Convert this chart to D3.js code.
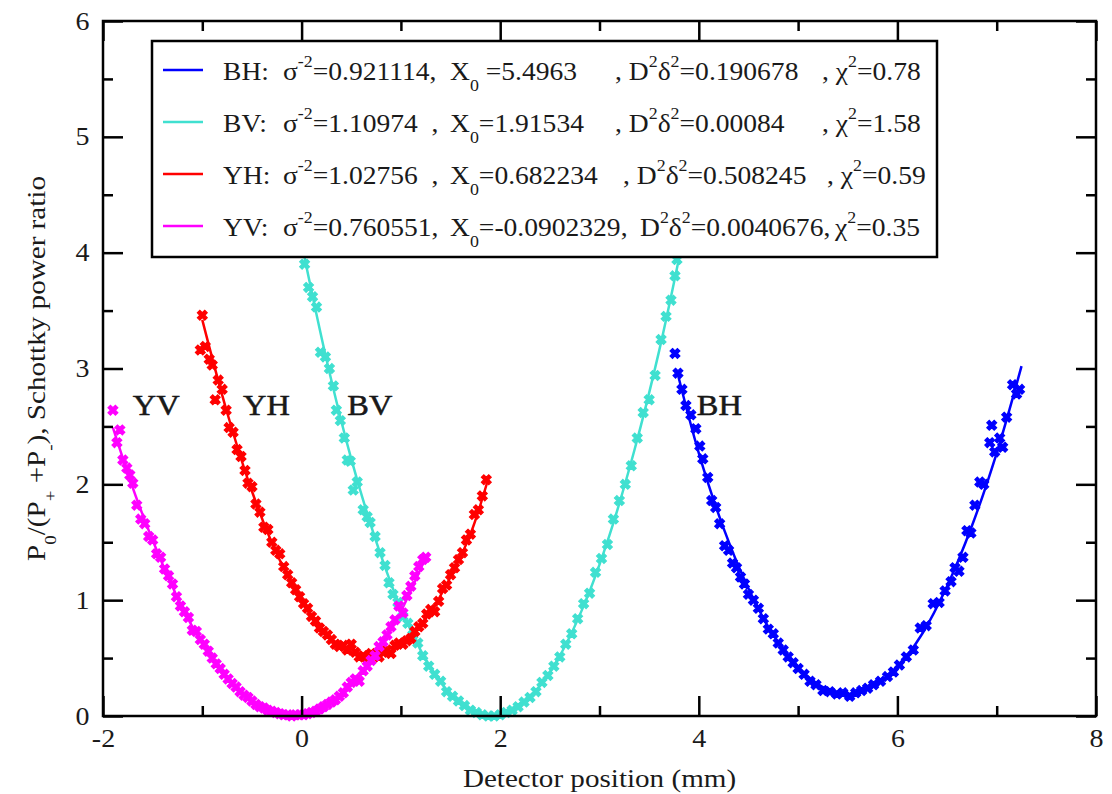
<!DOCTYPE html>
<html>
<head>
<meta charset="utf-8">
<script src="https://cdn.jsdelivr.net/npm/d3@7"></script>
<style>
  body { margin: 0; background: #fff; }
  svg text { font-family: "Liberation Serif", "Times New Roman", serif; fill: #1a1a1a; }
</style>
</head>
<body>
<div id="chart"></div>
<script>
// ---- data ----
var seriesNames = ["BH", "BV", "YH", "YV"];
var seriesColors = ["#0000ff", "#40e0d0", "#ff0000", "#ff00ff"];

// legend fit results, one string per series
var sigmaTxt = ["0.921114,", "1.10974  ,", "1.02756  ,", "0.760551,"];
var x0Txt    = ["5.4963", "1.91534", "0.682234", "-0.0902329,"];
var ddTxt    = ["0.190678", "0.00084", "0.508245", "0.0040676,"];
var chiTxt   = ["0.78", "1.58", "0.59", "0.35"];

var xTicks = [-2, 0, 2, 4, 6, 8];
var xMinor = [-1, 1, 3, 5, 7];
var yTicks = [0, 1, 2, 3, 4, 5, 6];
var yMinor = [0.5, 1.5, 2.5, 3.5, 4.5, 5.5];

// measured points [position mm, power ratio]
var bhPoints = [[3.76,3.13],[3.79,2.96],[3.83,2.82],[3.87,2.68],[3.92,2.60],[3.97,2.48],[4.01,2.33],[4.04,2.22],
  [4.09,2.06],[4.13,1.86],[4.17,1.80],[4.21,1.66],[4.26,1.47],[4.30,1.43],[4.34,1.32],[4.38,1.28],[4.42,1.20],
  [4.46,1.14],[4.50,1.05],[4.55,1.00],[4.60,0.93],[4.65,0.84],[4.70,0.75],[4.75,0.71],[4.80,0.63],[4.85,0.57],
  [4.90,0.51],[4.95,0.46],[5.00,0.41],[5.06,0.36],[5.12,0.30],[5.18,0.27],[5.25,0.22],[5.32,0.21],[5.39,0.19],
  [5.45,0.20],[5.52,0.17],[5.58,0.20],[5.64,0.22],[5.70,0.24],[5.76,0.27],[5.83,0.30],[5.90,0.34],[5.96,0.38],
  [6.02,0.44],[6.09,0.51],[6.16,0.57],[6.23,0.76],[6.29,0.78],[6.36,0.97],[6.42,0.98],[6.48,1.08],[6.54,1.16],
  [6.58,1.28],[6.62,1.25],[6.66,1.37],[6.70,1.60],[6.74,1.58],[6.78,1.82],[6.83,2.02],[6.87,2.00],[6.93,2.36],
  [6.95,2.51],[6.98,2.28],[7.03,2.40],[7.06,2.32],[7.10,2.58],[7.16,2.86],[7.20,2.78],[7.23,2.82]];

var bvPoints = [[0.03,3.90],[0.07,3.70],[0.11,3.62],[0.15,3.53],[0.19,3.14],[0.24,3.10],[0.28,3.00],[0.32,2.85],
  [0.35,2.64],[0.39,2.55],[0.43,2.40],[0.46,2.21],[0.49,2.20],[0.52,1.95],[0.56,2.02],[0.62,1.78],[0.66,1.72],
  [0.69,1.67],[0.74,1.55],[0.79,1.41],[0.84,1.30],[0.88,1.15],[0.92,1.05],[0.97,0.98],[1.02,0.86],[1.07,0.80],
  [1.12,0.70],[1.17,0.63],[1.22,0.52],[1.28,0.43],[1.34,0.36],[1.40,0.30],[1.46,0.21],[1.52,0.17],[1.58,0.13],
  [1.64,0.09],[1.70,0.05],[1.76,0.03],[1.82,0.01],[1.88,0.00],[1.94,0.00],[2.00,0.01],[2.06,0.03],[2.12,0.05],
  [2.18,0.08],[2.24,0.12],[2.30,0.16],[2.36,0.21],[2.42,0.29],[2.48,0.35],[2.54,0.43],[2.60,0.51],[2.66,0.62],
  [2.72,0.71],[2.78,0.84],[2.84,0.97],[2.90,1.06],[2.96,1.24],[3.02,1.36],[3.08,1.48],[3.14,1.70],[3.20,1.86],
  [3.26,2.00],[3.32,2.16],[3.38,2.40],[3.44,2.62],[3.50,2.73],[3.56,2.94],[3.62,3.25],[3.67,3.45],[3.72,3.59],
  [3.76,3.80],[3.78,3.94]];

var yhPoints = [[-1.00,3.46],[-1.02,3.16],[-0.97,3.19],[-0.93,3.08],[-0.90,3.03],[-0.87,2.73],[-0.84,2.90],
  [-0.80,2.82],[-0.76,2.64],[-0.73,2.49],[-0.69,2.45],[-0.65,2.30],[-0.61,2.24],[-0.57,2.12],[-0.54,2.01],
  [-0.50,1.98],[-0.46,1.83],[-0.42,1.76],[-0.38,1.63],[-0.34,1.61],[-0.30,1.50],[-0.26,1.43],[-0.22,1.40],
  [-0.18,1.29],[-0.14,1.22],[-0.10,1.15],[-0.06,1.09],[-0.02,1.03],[0.02,0.97],[0.06,0.93],[0.10,0.86],
  [0.14,0.82],[0.18,0.76],[0.22,0.73],[0.26,0.70],[0.30,0.66],[0.34,0.62],[0.38,0.60],[0.42,0.61],[0.46,0.57],
  [0.50,0.62],[0.54,0.55],[0.58,0.51],[0.62,0.52],[0.66,0.50],[0.70,0.54],[0.74,0.52],[0.78,0.51],[0.82,0.55],
  [0.86,0.57],[0.90,0.54],[0.94,0.61],[0.98,0.63],[1.02,0.62],[1.06,0.65],[1.10,0.67],[1.14,0.73],[1.18,0.77],
  [1.22,0.80],[1.26,0.88],[1.30,0.92],[1.34,0.90],[1.38,0.99],[1.42,1.10],[1.46,1.13],[1.50,1.22],[1.54,1.28],
  [1.58,1.35],[1.62,1.41],[1.66,1.52],[1.70,1.57],[1.74,1.74],[1.78,1.78],[1.82,1.90],[1.86,2.04]];

var yvPoints = [[-1.90,2.64],[-1.86,2.36],[-1.83,2.47],[-1.80,2.21],[-1.76,2.14],[-1.73,2.08],[-1.70,2.01],
  [-1.66,1.82],[-1.62,1.70],[-1.58,1.66],[-1.54,1.55],[-1.50,1.52],[-1.46,1.40],[-1.42,1.37],[-1.38,1.27],
  [-1.34,1.21],[-1.30,1.14],[-1.26,1.03],[-1.22,0.95],[-1.18,0.90],[-1.14,0.85],[-1.10,0.74],[-1.06,0.73],
  [-1.02,0.66],[-0.98,0.62],[-0.94,0.56],[-0.90,0.50],[-0.86,0.45],[-0.82,0.41],[-0.78,0.36],[-0.74,0.32],
  [-0.70,0.28],[-0.66,0.25],[-0.62,0.21],[-0.58,0.18],[-0.54,0.16],[-0.50,0.13],[-0.46,0.10],[-0.42,0.08],
  [-0.38,0.07],[-0.34,0.05],[-0.30,0.04],[-0.26,0.03],[-0.22,0.02],[-0.18,0.01],[-0.14,0.01],[-0.10,0.00],
  [-0.06,0.01],[-0.02,0.01],[0.02,0.01],[0.06,0.02],[0.10,0.03],[0.14,0.04],[0.18,0.06],[0.22,0.08],[0.26,0.10],
  [0.30,0.12],[0.34,0.14],[0.38,0.17],[0.42,0.20],[0.46,0.25],[0.50,0.29],[0.54,0.32],[0.58,0.30],[0.62,0.39],
  [0.66,0.43],[0.70,0.48],[0.74,0.52],[0.78,0.60],[0.82,0.64],[0.86,0.70],[0.90,0.77],[0.94,0.83],[0.98,0.95],
  [1.02,0.89],[1.06,1.04],[1.10,1.12],[1.14,1.21],[1.18,1.29],[1.22,1.35],[1.25,1.37]];

// fit curves
var bhFit = [[3.78,2.98],[4.0,2.27],[4.25,1.62],[4.5,1.10],[4.75,0.70],[5.0,0.42],[5.25,0.25],[5.5,0.19],
  [5.75,0.25],[6.0,0.42],[6.25,0.71],[6.5,1.12],[6.75,1.64],[7.0,2.27],[7.25,3.02]];
var bvFit = [[-0.05,4.29],[0.25,3.08],[0.5,2.22],[0.75,1.51],[1.0,0.93],[1.25,0.49],[1.5,0.19],[1.75,0.03],
  [1.92,0.0],[2.1,0.04],[2.35,0.21],[2.6,0.52],[2.85,0.97],[3.1,1.56],[3.35,2.29],[3.6,3.15],[3.87,4.24]];
var yhFit = [[-1.0,3.42],[-0.75,2.62],[-0.5,1.94],[-0.25,1.40],[0.0,0.99],[0.25,0.70],[0.5,0.54],[0.68,0.51],
  [0.9,0.56],[1.1,0.69],[1.3,0.90],[1.5,1.20],[1.7,1.57],[1.87,2.02]];
var yvFit = [[-1.9,2.49],[-1.65,1.85],[-1.4,1.31],[-1.15,0.85],[-0.9,0.50],[-0.65,0.24],[-0.4,0.08],
  [-0.09,0.0],[0.2,0.07],[0.45,0.22],[0.7,0.48],[0.95,0.82],[1.25,1.37]];

var allPoints = [bhPoints, bvPoints, yhPoints, yvPoints];
var allFits = [bhFit, bvFit, yhFit, yvFit];

// curve name labels, anchored in data units
var labelAt = [[3.98, 2.6], [0.46, 2.6], [-0.59, 2.6], [-1.70, 2.6]];

// ---- chart ----
var margin = {top: 21, right: 16, bottom: 78, left: 103},
    width = 1112 - margin.left - margin.right,
    height = 794 - margin.top - margin.bottom;

var sx = 1.12;   // the original type is a little wider than Liberation Serif
var sxLeg = 1.06; // legend rows are a touch narrower

var svg = d3.select("#chart")
  .append("svg")
    .attr("width", width + margin.left + margin.right)
    .attr("height", height + margin.top + margin.bottom)
  .append("g")
    .attr("transform", "translate(" + margin.left + "," + margin.top + ")");

var x = d3.scaleLinear().domain([-2, 8]).range([0, width]);
var y = d3.scaleLinear().domain([0, 6]).range([height, 0]);

// fit lines
var line = d3.line()
  .x(function(d) { return x(d[0]); })
  .y(function(d) { return y(d[1]); })
  .curve(d3.curveCatmullRom);

svg.selectAll(".fit")
  .data(allFits)
  .enter()
  .append("path")
    .attr("class", "fit")
    .attr("d", line)
    .attr("fill", "none")
    .attr("stroke", function(d, i) { return seriesColors[i]; })
    .attr("stroke-width", 2.5);

// measured points
var sym = d3.symbol().type(d3.symbolCross).size(60);
allPoints.forEach(function(pts, i) {
  svg.append("g")
    .selectAll("path")
    .data(pts)
    .enter()
    .append("path")
      .attr("d", sym)
      .attr("transform", function(d) { return "translate(" + x(d[0]) + "," + y(d[1]) + ") rotate(45)"; })
      .attr("fill", seriesColors[i])
      .attr("stroke", seriesColors[i])
      .attr("stroke-width", 1.2);
});

// axes: ticks point inward on all four sides
function styleAxis(g, fontSize) {
  g.select(".domain").remove();
  g.selectAll("line").attr("stroke", "#000").attr("stroke-width", 2.5);
  g.selectAll("text")
    .style("font-size", fontSize + "px")
    .style("font-family", "'Liberation Serif', 'Times New Roman', serif")
    .attr("fill", "#1a1a1a")
    .attr("transform", "scale(" + sx + ",1)");
}
var fmt = function(d) { return String(d); };

svg.append("g")
  .attr("transform", "translate(0," + height + ")")
  .call(d3.axisBottom(x).tickValues(xTicks).tickSize(-20).tickSizeOuter(0).tickPadding(13).tickFormat(fmt))
  .call(styleAxis, 25);
svg.append("g")
  .attr("transform", "translate(0," + height + ")")
  .call(d3.axisBottom(x).tickValues(xMinor).tickSize(-10).tickSizeOuter(0).tickFormat(""))
  .call(styleAxis, 25);
svg.append("g")
  .call(d3.axisTop(x).tickValues(xTicks).tickSize(-20).tickSizeOuter(0).tickFormat(""))
  .call(styleAxis, 25);
svg.append("g")
  .call(d3.axisTop(x).tickValues(xMinor).tickSize(-10).tickSizeOuter(0).tickFormat(""))
  .call(styleAxis, 25);

svg.append("g")
  .call(d3.axisLeft(y).tickValues(yTicks).tickSize(-20).tickSizeOuter(0).tickPadding(12).tickFormat(fmt))
  .call(styleAxis, 25);
svg.append("g")
  .call(d3.axisLeft(y).tickValues(yMinor).tickSize(-10).tickSizeOuter(0).tickFormat(""))
  .call(styleAxis, 25);
svg.append("g")
  .attr("transform", "translate(" + width + ",0)")
  .call(d3.axisRight(y).tickValues(yTicks).tickSize(-20).tickSizeOuter(0).tickFormat(""))
  .call(styleAxis, 25);
svg.append("g")
  .attr("transform", "translate(" + width + ",0)")
  .call(d3.axisRight(y).tickValues(yMinor).tickSize(-10).tickSizeOuter(0).tickFormat(""))
  .call(styleAxis, 25);

// frame
svg.append("rect")
  .attr("width", width)
  .attr("height", height)
  .attr("fill", "none")
  .attr("stroke", "#000")
  .attr("stroke-width", 2.5);

// text with sub/superscripts: parts = [[text, shift]] shift 1 = sup, -1 = sub
function richText(g, px, py, size, parts, opts) {
  opts = opts || {};
  var tr = "translate(" + px + "," + py + ")" + (opts.rotate ? " rotate(-90)" : "") +
           " scale(" + (opts.scale || sx) + ",1)";
  var t = g.append("text")
    .attr("transform", tr)
    .attr("text-anchor", opts.anchor || "start")
    .style("font-size", size + "px")
    .style("white-space", "pre");
  var cur = 0;
  parts.forEach(function(p) {
    var target = p[1] === 1 ? -0.5 * size : p[1] === -1 ? 0.42 * size : 0;
    t.append("tspan")
      .attr("dy", target - cur)
      .style("font-size", (p[1] ? 0.65 * size : size) + "px")
      .text(p[0]);
    cur = target;
  });
  return t;
}

// curve labels
seriesNames.forEach(function(name, i) {
  svg.append("text")
    .attr("transform", "translate(" + x(labelAt[i][0]) + "," + y(labelAt[i][1]) + ") scale(1.08,1)")
    .style("font-size", "30px")
    .attr("fill", "#111")
    .attr("stroke", "#111")
    .attr("stroke-width", 0.5)
    .text(name);
});

// axis titles
svg.append("text")
  .attr("transform", "translate(" + (width / 2) + "," + (height + 71) + ") scale(" + sx + ",1)")
  .attr("text-anchor", "middle")
  .style("font-size", "26px")
  .text("Detector position (mm)");

richText(svg, -58, height / 2, 26, [
  ["P", 0], ["0", -1], ["/(P", 0], ["+", -1], [" +P", 0], ["-", -1], ["), Schottky power ratio", 0]
], {anchor: "middle", rotate: true});

// legend
var legend = svg.append("g").attr("transform", "translate(49,20)");
legend.append("rect")
  .attr("width", 785)
  .attr("height", 216)
  .attr("fill", "#fff")
  .attr("stroke", "#000")
  .attr("stroke-width", 2.5);

var rowH = 52;
var ddX = [463, 463, 471, 488];
var chiX = [670, 670, 675, 683];
var leg = {scale: sxLeg};
seriesNames.forEach(function(name, i) {
  var cy = 29 + i * rowH, base = cy + 10;
  legend.append("line")
    .attr("x1", 11).attr("x2", 51)
    .attr("y1", cy).attr("y2", cy)
    .attr("stroke", seriesColors[i])
    .attr("stroke-width", 2.5);
  richText(legend, 71, base, 26, [[name + ":", 0]], leg);
  richText(legend, 131, base, 26, [["σ", 0], ["-2", 1], ["=" + sigmaTxt[i], 0]], leg);
  richText(legend, 298, base, 26, [["X", 0], ["0", -1], [(i === 0 ? " =" : "=") + x0Txt[i], 0]], leg);
  richText(legend, ddX[i], base, 26, [[(i < 3 ? ", " : "") + "D", 0], ["2", 1], ["δ", 0], ["2", 1], ["=" + ddTxt[i], 0]], leg);
  richText(legend, chiX[i], base, 26, [[(i < 3 ? ", " : "") + "χ", 0], ["2", 1], ["=" + chiTxt[i], 0]], leg);
});
</script>
</body>
</html>
